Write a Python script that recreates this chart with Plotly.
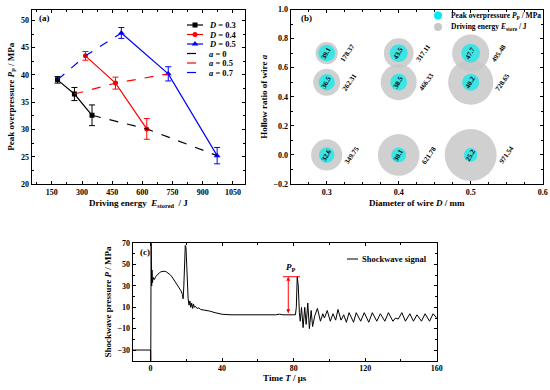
import plotly.graph_objects as go
import math

# ---------------- data ----------------
# panel (a)/(b): wire diameter D, hollow ratio a, stored energy, peak overpressure
D_values = [0.3, 0.4, 0.5]
hollow_ratios = [0.7, 0.5, 0.0]
E_D03 = [178.37, 262.31, 349.75]
P_D03 = [39.1, 36.5, 32.6]
err_D03 = [0.6, 1.2, 1.9]
E_D04 = [317.11, 466.33, 621.78]
P_D04 = [43.5, 38.5, 30.1]
err_D04 = [0.8, 1.1, 1.9]
E_D05 = [495.48, 728.65, 971.54]
P_D05 = [47.7, 40.2, 25.2]
err_D05 = [1.0, 1.3, 1.5]

# panel (c): shockwave signal
sig_t = [-10, 0, 0.1, 0.3, 0.6, 0.8, 1, 1.5, 2, 3, 4, 5, 6, 7, 8, 9, 10, 11, 12, 13, 14, 15,
         16, 17, 17.8, 18.2, 18.6, 19, 19.4, 19.8, 20.2, 20.6, 21, 21.5, 22, 22.5, 23, 23.5,
         24, 24.5, 25, 26, 27, 28, 30, 33, 36, 40, 45, 55, 65, 70, 72, 74, 81, 81.5, 82,
         82.6, 83.2, 83.7, 84.4, 85.3, 86.2, 87.0, 87.9, 88.8, 89.8, 90.6, 91.8, 93.3, 95,
         96.3, 97.2, 98.8, 100.5, 102, 103.5, 104.8, 106.5, 108, 109.5, 111, 113.5, 115,
         117.5, 119.5, 122, 124, 126.5, 128.5, 131, 133, 135.5, 137, 138.5, 140.5, 142.5,
         145, 147, 149, 151.5, 153.5, 156, 158, 160]
sig_p = [-30, -30, -45, 75, 30, 45, 33, 38, 36, 39, 41, 42.5, 43.5, 44, 43.8, 43, 42, 40.5,
         38.5, 36, 33.5, 31, 28, 25.5, 22, 18, 30, 60, 68, 66, 50, 30, 18, 12, 16, 10, 14, 9,
         13, 10, 11, 9, 9.5, 8, 7.5, 6.5, 5, 3.5, 3, 2.8, 2.8, 3.0, 3.6, 3.0, 3, 10, 38.7,
         30, 5, -3, 10, -9, 10, -6, 14, -10, 7, -8, 2, 9, -3, 4, 0, 7, -3, 4, -2, 8, -2, 3,
         -4, 5, -4, 5, -3, 5, -4, 5, -3, 4, -3, 5, -3, 0, -1, 5, -3, 4, -3, 3, -3, 4, -3, 4, 0]
peak_time = 82.0
peak_value = 38.7
baseline_value = 3.0

# ---------------- styling ----------------
FONT = "Liberation Serif"
W, H = 550, 390
colors = ["black", "red", "blue"]
symbols = ["square", "circle", "triangle-up"]
GRAY = "rgb(200,200,200)"
CYAN = "rgb(0,235,235)"

def px_x(p):
    return p / W

def px_y(p):
    return 1 - p / H

fig = go.Figure()
annotations = []

# ---------- panel (a) ----------
E_sets = [E_D03, E_D04, E_D05]
P_sets = [P_D03, P_D04, P_D05]
err_sets = [err_D03, err_D04, err_D05]
legend_a = []   # (label, color, dash, symbol, size)
for D, E, P, er, c, s in zip(D_values, E_sets, P_sets, err_sets, colors, symbols):
    msize = 5 if s != "triangle-up" else 6
    fig.add_trace(go.Scatter(
        x=E, y=P, mode="lines+markers", showlegend=False,
        line=dict(color=c, width=1.2),
        marker=dict(symbol=s, size=msize, color=c),
        error_y=dict(type="data", array=er, color=c, thickness=1, width=3),
        xaxis="x", yaxis="y"))
    legend_a.append((f"<i>D</i> = {D}", c, "solid", s, msize))

# dashed lines: constant hollow ratio, built from same data
for a, c in zip(hollow_ratios[::-1], colors):
    idx = hollow_ratios.index(a)
    xs = [E_sets[k][idx] for k in range(3)]
    ys = [P_sets[k][idx] for k in range(3)]
    fig.add_trace(go.Scatter(
        x=xs, y=ys, mode="lines", showlegend=False,
        line=dict(color=c, width=1.2, dash="dash"),
        xaxis="x", yaxis="y"))
    legend_a.append((f"<i>a</i> = {a:g}", c, "dash", None, 0))

# ---------- panel (b) ----------
E_max = max(max(e) for e in E_sets)
P_max = max(max(p) for p in P_sets)
gray_d = 52.0
cyan_d = 18.7
bx, by, bE, bP = [], [], [], []
for D, E, P in zip(D_values, E_sets, P_sets):
    for a, e, p in zip(hollow_ratios, E, P):
        bx.append(D); by.append(a); bE.append(e); bP.append(p)

fig.add_trace(go.Scatter(
    x=bx, y=by, mode="markers", showlegend=False,
    marker=dict(size=bE, sizemode="area", sizeref=2 * E_max / gray_d ** 2,
                color=GRAY, opacity=0.85, line=dict(width=0)),
    xaxis="x2", yaxis="y2"))
fig.add_trace(go.Scatter(
    x=bx, y=by, mode="markers", showlegend=False,
    marker=dict(size=bP, sizemode="area", sizeref=2 * P_max / cyan_d ** 2,
                color=CYAN, line=dict(width=0)),
    xaxis="x2", yaxis="y2"))

for x, y, e, p in zip(bx, by, bE, bP):
    annotations.append(dict(x=x, y=y, xref="x2", yref="y2", text=f"{p:.1f}",
                            showarrow=False, textangle=-60,
                            font=dict(family=FONT, size=7, color="black", weight="bold")))
    r = gray_d / 2 * math.sqrt(e / E_max)
    annotations.append(dict(x=x, y=y, xref="x2", yref="y2", text=f"{e:.2f}",
                            showarrow=False, textangle=-55, xshift=r + 10,
                            font=dict(family=FONT, size=7, color="black", weight="bold")))

# ---------- panel (c) ----------
fig.add_trace(go.Scatter(
    x=sig_t, y=sig_p, mode="lines", showlegend=False,
    line=dict(color="black", width=1),
    xaxis="x3", yaxis="y3"))

annotations.append(dict(x=peak_time - 5, y=peak_value, ax=peak_time - 5, ay=baseline_value,
                        xref="x3", yref="y3", axref="x3", ayref="y3", text="",
                        showarrow=True, arrowhead=2, startarrowhead=2, arrowside="end+start",
                        arrowcolor="red", arrowwidth=1, arrowsize=0.8, startarrowsize=0.8))
fig.add_shape(type="line", xref="x3", yref="y3", x0=peak_time - 8, x1=peak_time + 1.5,
              y0=peak_value, y1=peak_value, line=dict(color="red", width=1))
annotations.append(dict(x=peak_time - 3.5, y=peak_value + 2, xref="x3", yref="y3",
                        text="<i>P</i><sub>P</sub>", showarrow=False, yanchor="bottom",
                        font=dict(family=FONT, size=9, color="black", weight="bold")))

# ---------- legends (drawn on a pixel-unit overlay axis for compact rows) ----------
legfont = dict(family=FONT, size=8.5, color="black", weight="bold")
row_y = 25.0
for label, c, dash, s, msize in legend_a:
    fig.add_trace(go.Scatter(x=[187, 203], y=[row_y, row_y], mode="lines", showlegend=False,
                             line=dict(color=c, width=1.2, dash="dash" if dash == "dash" else "solid"),
                             xaxis="x4", yaxis="y4", hoverinfo="skip"))
    if s:
        fig.add_trace(go.Scatter(x=[195], y=[row_y], mode="markers", showlegend=False,
                                 marker=dict(symbol=s, size=msize, color=c),
                                 xaxis="x4", yaxis="y4", hoverinfo="skip"))
    annotations.append(dict(x=207, y=row_y, xref="x4", yref="y4", text=label,
                            showarrow=False, xanchor="left", yanchor="middle", font=legfont))
    row_y += 9.5

legb = [("Peak overpressure <i>P</i><sub>P</sub> / MPa", CYAN, 15.5),
        ("Driving energy <i>E</i><sub>store</sub> / J", GRAY, 27.0)]
for label, c, yy in legb:
    fig.add_trace(go.Scatter(x=[438], y=[yy], mode="markers", showlegend=False,
                             marker=dict(symbol="circle", size=8, color=c),
                             xaxis="x4", yaxis="y4", hoverinfo="skip"))
    annotations.append(dict(x=449, y=yy, xref="x4", yref="y4", text=label,
                            showarrow=False, xanchor="left", yanchor="middle",
                            font=dict(family=FONT, size=7.5, color="black", weight="bold")))

fig.add_trace(go.Scatter(x=[347, 358], y=[259, 259], mode="lines", showlegend=False,
                         line=dict(color="black", width=1),
                         xaxis="x4", yaxis="y4", hoverinfo="skip"))
annotations.append(dict(x=360, y=259, xref="x4", yref="y4", text="Shockwave signal",
                        showarrow=False, xanchor="left", yanchor="middle", font=legfont))

# panel labels
for txt, xp, yp in [("(a)", 37, 18), ("(b)", 299, 18), ("(c)", 138, 252)]:
    annotations.append(dict(x=xp, y=yp, xref="x4", yref="y4", text=txt,
                            showarrow=False, xanchor="left", yanchor="middle",
                            font=dict(family=FONT, size=9, color="black", weight="bold")))

tickfont = dict(family=FONT, size=8, color="black", weight="bold")
titlefont = dict(family=FONT, size=9, color="black", weight="bold")

def ax(domain, rng, dtick, minor_dtick, title, anchor, tick0=None, standoff=4):
    d = dict(domain=domain, range=rng, dtick=dtick, anchor=anchor, automargin=False,
             showgrid=False, zeroline=False, showline=True, linecolor="black", linewidth=1,
             mirror="allticks", ticks="inside", ticklen=3, tickcolor="black",
             minor=dict(dtick=minor_dtick, ticks="inside", ticklen=2, tickcolor="black",
                        showgrid=False),
             tickfont=tickfont, title=dict(text=title, font=titlefont, standoff=standoff))
    if tick0 is not None:
        d["tick0"] = tick0
        d["minor"]["tick0"] = tick0
    return d

xa = ax([px_x(31.7), px_x(245)], [50, 1110], 150, 75,
        "Driving energy  <i>E</i><sub>stored</sub>  / J", "y", tick0=0)
ya = ax([px_y(184), px_y(9.5)], [20, 52], 5, 2.5,
        "Peak overpressure <i>P</i><sub>P</sub> / MPa", "x")
xb = ax([px_x(290.7), px_x(542.7)], [0.25, 0.6], 0.1, 0.025,
        "Diameter of wire <i>D</i> / mm", "y2", tick0=0)
yb = ax([px_y(184), px_y(9.5)], [-0.2, 1.0], 0.2, 0.1,
        "Hollow ratio of wire <i>a</i>", "x2", tick0=0)
yb["tickformat"] = ".1f"
xc = ax([px_x(132.7), px_x(436.7)], [-10, 160], 40, 20,
        "Time <i>T</i> / μs", "y3", tick0=0, standoff=1)
yc = ax([px_y(360.7), px_y(243.3)], [-40, 70], 20, 10,
        "Shockwave pressure <i>P</i> / MPa", "x3", tick0=-30)

overlay_x = dict(domain=[0, 1], range=[0, W], visible=False, fixedrange=True,
                 anchor="y4", automargin=False)
overlay_y = dict(domain=[0, 1], range=[H, 0], visible=False, fixedrange=True,
                 anchor="x4", automargin=False)

fig.update_layout(
    width=W, height=H, margin=dict(l=0, r=0, t=0, b=0, pad=0, autoexpand=False),
    paper_bgcolor="white", plot_bgcolor="rgba(0,0,0,0)",
    font=dict(family=FONT, color="black"),
    xaxis=xa, yaxis=ya, xaxis2=xb, yaxis2=yb, xaxis3=xc, yaxis3=yc,
    xaxis4=overlay_x, yaxis4=overlay_y,
    annotations=annotations,
    showlegend=False,
)

# remove the page's default body margin so the 550x390 figure fills the window exactly
fig.write_html("out.html",
               config={"displayModeBar": False},
               post_script="document.body.style.margin='0';document.body.style.overflow='hidden';")
